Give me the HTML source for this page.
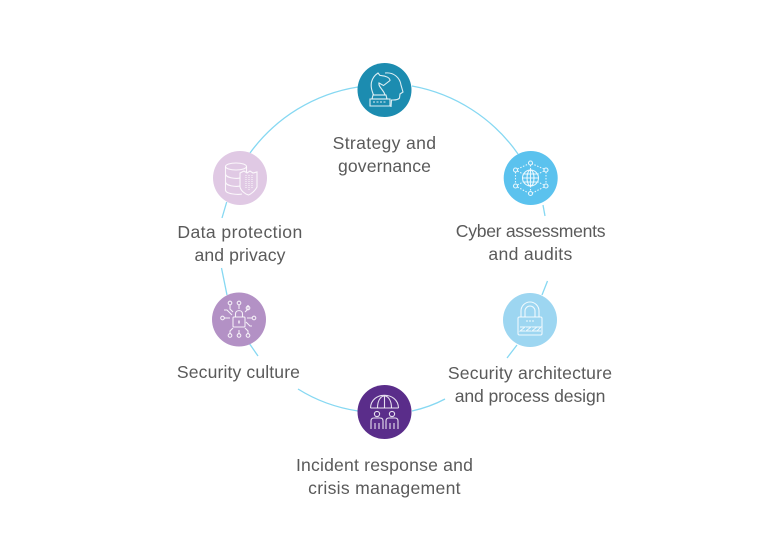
<!DOCTYPE html>
<html>
<head>
<meta charset="utf-8">
<style>
html,body{margin:0;padding:0;background:#fff;}
#c{position:relative;width:768px;height:550px;overflow:hidden;background:#fff;}
svg{position:absolute;left:0;top:0;}
.t{position:absolute;font-family:"Liberation Sans",sans-serif;font-size:17.6px;line-height:23px;color:#5a5a5a;text-align:center;white-space:nowrap;transform:translateX(-50%);}
</style>
</head>
<body>
<div id="c">
<svg width="768" height="550" viewBox="0 0 768 550">
  <g fill="none" stroke="#86d8f2" stroke-width="1.3">
    <path d="M358 87 A165 165 0 0 0 250 153"/>
    <path d="M412 86 A165 165 0 0 1 518 154"/>
    <path d="M543 205 L545 216"/>
    <path d="M547.500 281 L542 295"/>
    <path d="M517 345 L507 358"/>
    <path d="M445 399 Q430 407 412 411"/>
    <path d="M358 411 Q325 406 298 389"/>
    <path d="M258 356 L249 343"/>
    <path d="M227 295 L221.500 268"/>
    <path d="M226.700 202 L222 218"/>
  </g>
  <circle cx="384.5" cy="90" r="27" fill="#1c8cb0"/>
  <circle cx="530.7" cy="178" r="27" fill="#5bc2ee"/>
  <circle cx="530" cy="320" r="27" fill="#9dd6f1"/>
  <circle cx="384.5" cy="412" r="27" fill="#5a2d8a"/>
  <circle cx="239" cy="319.5" r="27" fill="#b391c5"/>
  <circle cx="240" cy="178" r="27" fill="#e0c9e4"/>
  <g fill="none" stroke="#fff" stroke-opacity=".85" stroke-width="1.1">
    <!-- head -->
    <path d="M385 73 C394 72 400 78 401 85 L403 92 L400 94 L399.500 98 Q398 100 393 100 L391.500 100 L391 107"/>
    <!-- knight -->
    <path d="M378 73 L380 75.500 C386 75.500 390 78 390 80.500 L383.500 85.500 L379 83 C378 87 384 90 385 95 H373.500 C372 91 370.500 87 371.500 82 C372.500 78 375 75 378 73Z"/>
    <path d="M373 95 H386 L387 99 H372Z"/>
    <path d="M370 99 H390 V106 H370Z"/>
    <path d="M373 102 H387" stroke-dasharray="2 1.500"/>
    <!-- globe network -->
    <circle cx="530.5" cy="178" r="8"/>
    <ellipse cx="530.5" cy="178" rx="3.500" ry="8"/>
    <path d="M522.500 178 H538.500 M524 174 H537 M524 182 H537 M530.5 170 V186"/>
    <circle cx="530.5" cy="163" r="2"/><circle cx="530.5" cy="193.500" r="2"/>
    <circle cx="515.500" cy="170" r="2"/><circle cx="546" cy="170" r="2"/>
    <circle cx="515.500" cy="186" r="2"/><circle cx="546" cy="186" r="2"/>
    <path stroke-dasharray="1.5 1.5" d="M530.5 165 V170 M530.5 186 V191 M517.500 169 L528.500 164 M544 169 L532.500 164 M517.500 187 L528.500 193 M544 187 L532.500 193 M515.500 172 V184 M546 172 V184 M517.500 171 L523 174 M544 171 L538 174 M517.500 185 L523 182 M544 185 L538 182"/>
    <!-- padlock -->
    <path d="M521 317 V311 A9 9 0 0 1 539 311 V317"/>
    <path d="M525 317 V311 A5 5 0 0 1 535 311 V317"/>
    <rect x="518" y="317" width="24" height="18" rx="1.5"/>
    <path d="M520 327 L525 327 L520 331 L525 331 M526 327 L531 327 L526 331 L531 331 M532 327 L537 327 L532 331 L537 331 M537 327 L541 327 L537 331 L541 331" stroke-width=".9"/>
    <path d="M526 321 H534" stroke-dasharray="2 1"/>
    <!-- umbrella people -->
    <path d="M370.500 408 C371 391 398 391 398.500 408 M370.500 408 H398.500"/>
    <path d="M377.500 408 C377.500 400 381 396 384.5 396 C388 396 391.500 400 391.500 408 M384.5 396 V408"/>
    <circle cx="377" cy="414" r="2.6"/><circle cx="392" cy="414" r="2.6"/>
    <path d="M371 429 V421 Q371 418 374 418 H380 Q383 418 383 421 V429 M375 429 V423 M379 429 V423"/>
    <path d="M386 429 V421 Q386 418 389 418 H395 Q398 418 398 421 V429 M390 429 V423 M394 429 V423"/>
    <!-- circuit lock -->
    <rect x="233" y="317" width="12" height="10" rx="1"/>
    <path d="M235.5 317 V314 C235.5 309.5 242.5 309.5 242.5 314 V317"/>
    <path d="M239 320.5 V323.5" stroke-width="1.5"/>
    <path d="M224 318 H230 M247 318 H252 M239 305 V309 M230 305 V309 L233 312 M248 305 V309 L245 312 M239 330 V334 M230 334 V331 L233 328 M248 334 V331 L245 328 M224 310 H227 L232 315 M252 326 H250 L246 322"/>
    <circle cx="222.5" cy="318" r="1.8"/><circle cx="254" cy="318" r="1.8"/>
    <circle cx="239" cy="303" r="1.8"/><circle cx="230" cy="303" r="1.8"/><circle cx="248" cy="308" r="1.8"/>
    <circle cx="239" cy="335.5" r="1.8"/><circle cx="230" cy="335.5" r="1.8"/><circle cx="248" cy="335.5" r="1.8"/>
    <!-- database shield -->
    <ellipse cx="236" cy="166.5" rx="10.5" ry="3.5"/>
    <path d="M225.500 166.500 V190 C225.500 194 238 195 242 194 M225.500 174 C226 178 236 179 240 178 M225.500 182 C226 186 236 187 240 186 M246.500 166.500 V172"/>
    <path d="M240 173 L244 171 L247 173 L250 171 L253 173 L257 172 V187 C255 191 251 194 248.500 195 C245 194 241 191 240 187Z"/>
    <path stroke-dasharray="1 1" d="M246 175 V188 M249 175 V190 M252 175 V188"/>
  </g>
</svg>
<div class="t" style="left:384.500px;top:132px"><span style="letter-spacing:.33px">Strategy and</span><br><span style="letter-spacing:.1px">governance</span></div>
<div class="t" style="left:530.500px;top:220px"><span style="letter-spacing:-.3px">Cyber assessments</span><br><span style="letter-spacing:.3px">and audits</span></div>
<div class="t" style="left:530px;top:362px"><span style="letter-spacing:.19px">Security architecture</span><br><span style="letter-spacing:-.11px">and process design</span></div>
<div class="t" style="left:384.500px;top:454px"><span style="letter-spacing:.19px">Incident response and</span><br><span style="letter-spacing:.3px">crisis management</span></div>
<div class="t" style="left:238.500px;top:361px"><span style="letter-spacing:.12px">Security culture</span></div>
<div class="t" style="left:240px;top:221px"><span style="letter-spacing:.4px">Data protection</span><br><span style="letter-spacing:.1px">and privacy</span></div>
</div>
</body>
</html>
